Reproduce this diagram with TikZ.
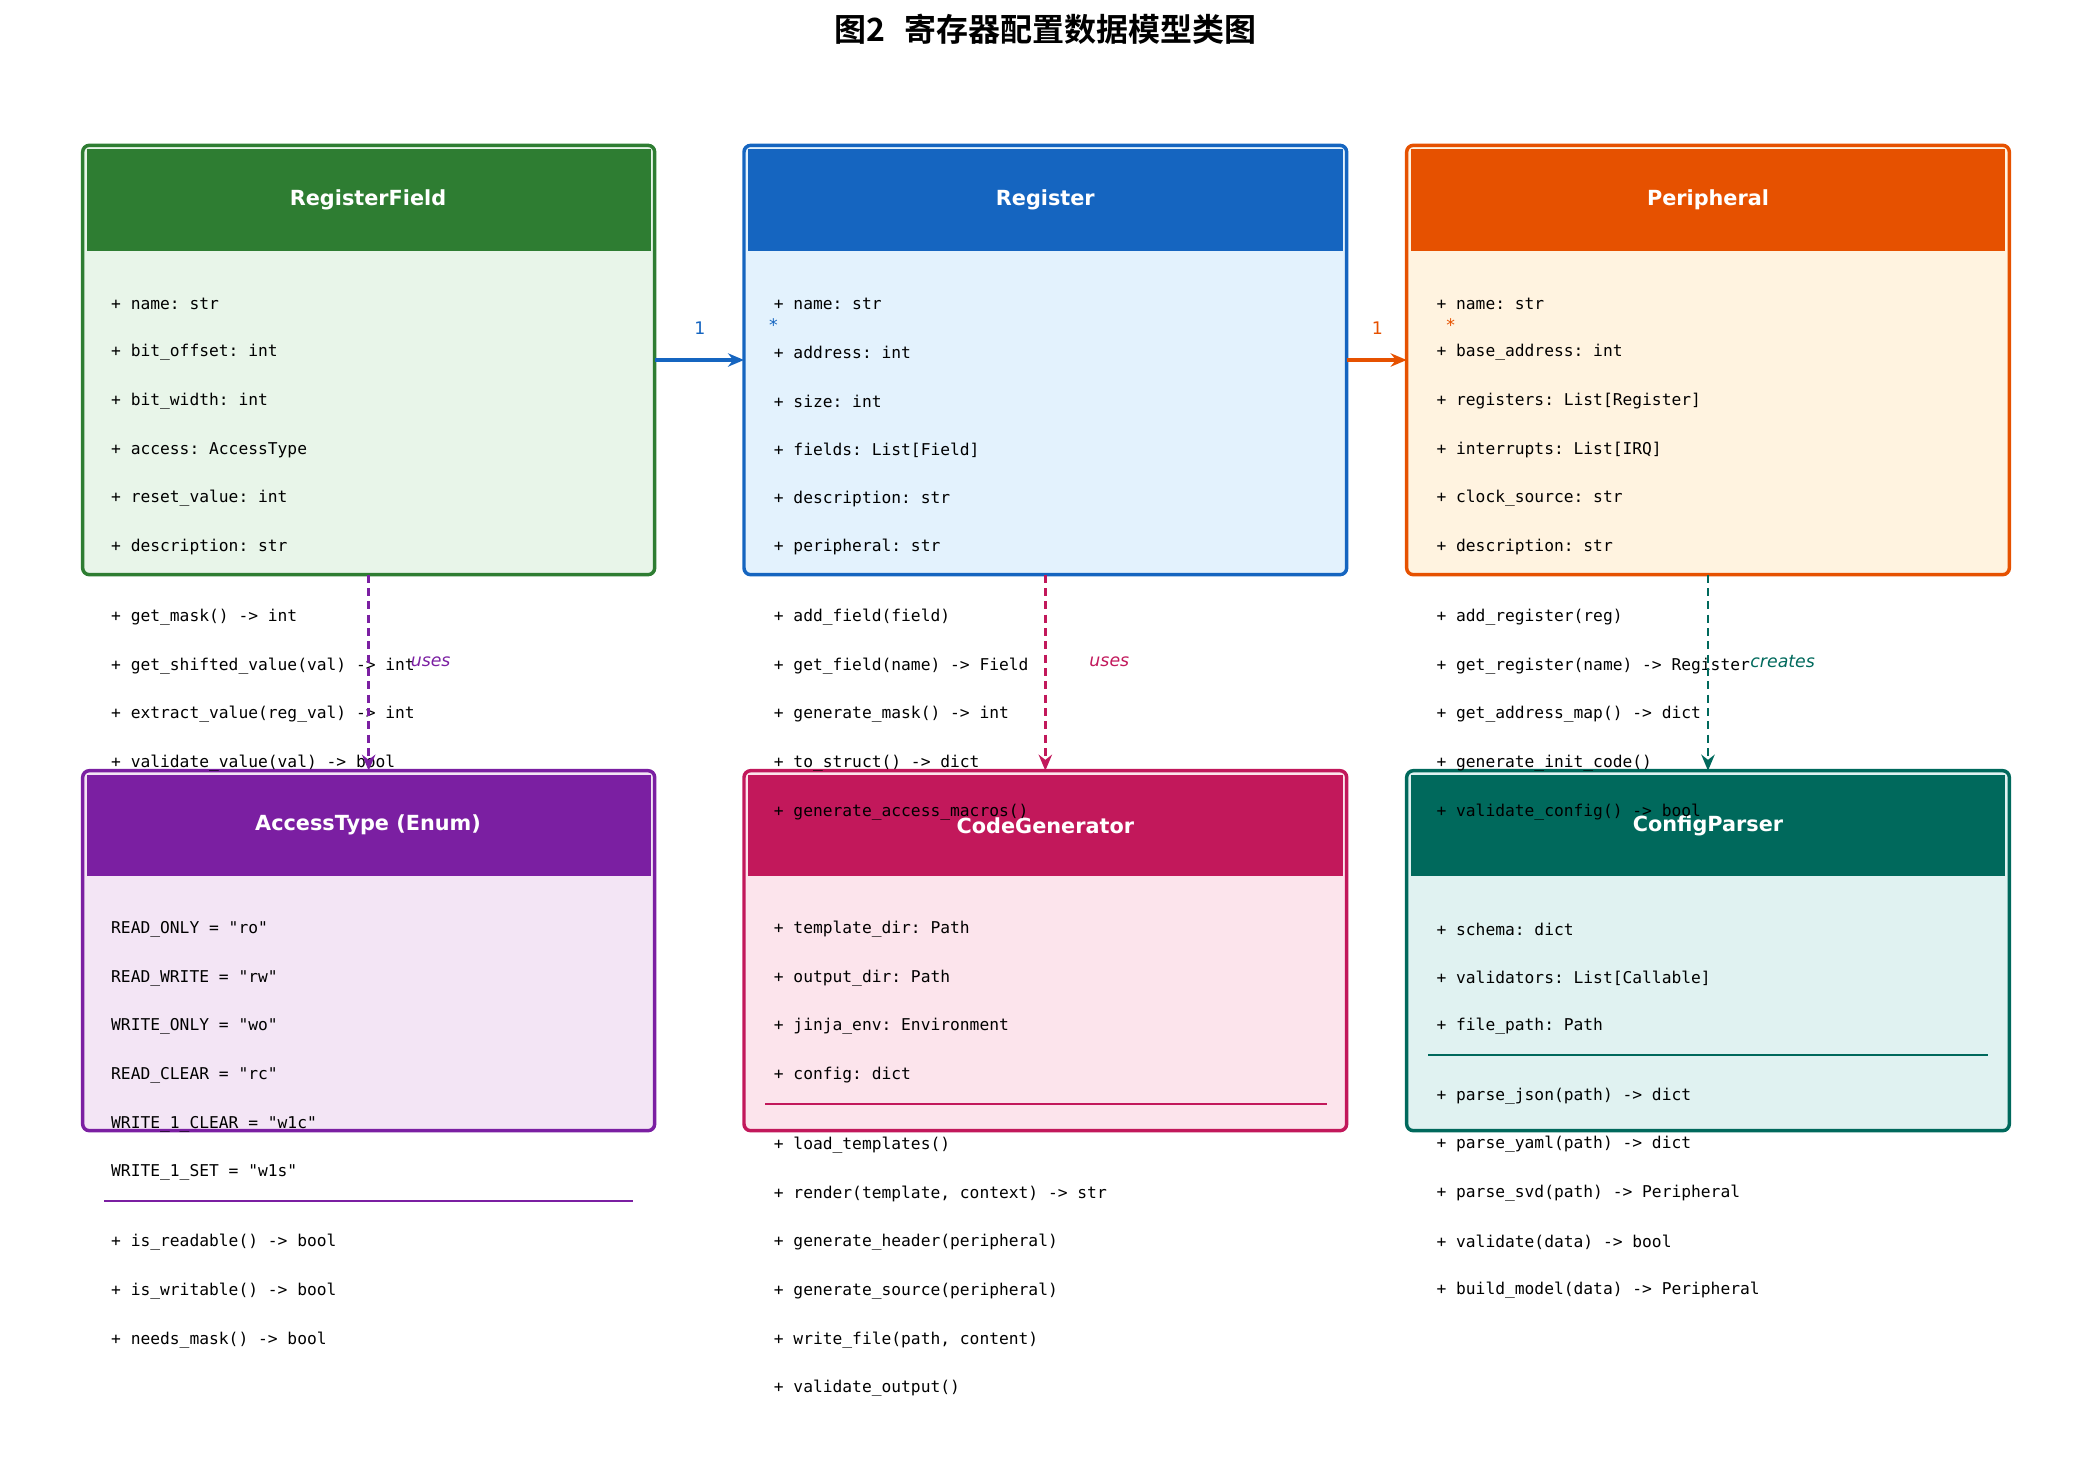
\documentclass[tikz,border=0pt]{standalone}
\usepackage{fontspec}
\setmainfont{DejaVu Sans}
\setmonofont{DejaVu Sans Mono}
\newfontfamily\cjk{Noto Sans CJK SC}[BoldFont={Noto Sans CJK SC Bold}]
\usetikzlibrary{arrows.meta}
\definecolor{cA}{HTML}{2E7D32}\definecolor{fA}{HTML}{E8F5E9}
\definecolor{cB}{HTML}{1565C0}\definecolor{fB}{HTML}{E3F2FD}
\definecolor{cC}{HTML}{E65100}\definecolor{fC}{HTML}{FFF3E0}
\definecolor{cD}{HTML}{7B1FA2}\definecolor{fD}{HTML}{F3E5F5}
\definecolor{cE}{HTML}{C2185B}\definecolor{fE}{HTML}{FCE4EC}
\definecolor{cF}{HTML}{00695C}\definecolor{fF}{HTML}{E0F2F1}
\newcommand{\umlbox}[7]{%
  \draw[#2,line width=1.3pt,rounded corners=2.5pt,fill=#3] (#4,#5) rectangle (#6,#7);
  \fill[#2] ({#4+3},{#5+3}) rectangle ({#6-3},{#5+79});
  \coordinate (#1-top) at ({(#4+#6)/2},#5);
  \coordinate (#1-bot) at ({(#4+#6)/2},#7);
  \coordinate (#1-left) at (#4,{#5+161});
  \coordinate (#1-right) at (#6,{#5+161});
}
\newcommand{\txtlines}[3]{\foreach \t [count=\i from 0] in {#3} \node[txt] at (#1,{#2+36.5*\i}) {\t};}
\begin{document}
\begin{tikzpicture}[x=0.5pt,y=-0.5pt,
  txt/.style={anchor=west,font=\ttfamily\fontsize{6.1}{7}\selectfont,inner sep=0pt},
  hdr/.style={font=\bfseries\fontsize{7.8}{9}\selectfont,text=white},
  lbl/.style={font=\fontsize{6.5}{8}\selectfont},
  ilbl/.style={font=\itshape\fontsize{6.5}{8}\selectfont},
  dep/.style={densely dashed,line width=1.1pt,-{Stealth[length=6pt,width=5pt]}},
  asc/.style={line width=1.2pt,-{Stealth[length=6pt,width=5pt]}}]
\useasboundingbox (0,0) rectangle (1560,1110);
\node[font=\cjk\bfseries\fontsize{12}{14}\selectfont] (title) at (784,22) {图2\hspace{0.6em}寄存器配置数据模型类图};
\umlbox{rf}{cA}{fA}{62}{109}{491}{431}
\umlbox{rg}{cB}{fB}{558}{109}{1010}{431}
\umlbox{pe}{cC}{fC}{1055}{109}{1507}{431}
\umlbox{at}{cD}{fD}{62}{578}{491}{848}
\umlbox{cg}{cE}{fE}{558}{578}{1010}{848}
\umlbox{cp}{cF}{fF}{1055}{578}{1507}{848}
\node[hdr] (h1) at (276,150) {RegisterField};
\node[hdr] (h2) at (784,150) {Register};
\node[hdr] (h3) at (1281,150) {Peripheral};
\node[hdr] (h4) at (276,619) {AccessType (Enum)};
\node[hdr] (h5) at (784,619) {CodeGenerator};
\node[hdr] (h6) at (1281,619) {ConfigParser};
\txtlines{83}{228}{+ name: str,+ bit\_offset: int,+ bit\_width: int,+ access: AccessType,+ reset\_value: int,+ description: str}
\txtlines{83}{463}{+ get\_mask() -> int,+ get\_shifted\_value(val) -> int,+ extract\_value(reg\_val) -> int,+ validate\_value(val) -> bool}
\txtlines{580}{228}{+ name: str,+ address: int,+ size: int,+ fields: List[Field],+ description: str,+ peripheral: str}
\txtlines{580}{463}{+ add\_field(field),+ get\_field(name) -> Field,+ generate\_mask() -> int,+ to\_struct() -> dict,+ generate\_access\_macros()}
\txtlines{1077}{228}{+ name: str,+ base\_address: int,+ registers: List[Register],+ interrupts: List[IRQ],+ clock\_source: str,+ description: str}
\txtlines{1077}{463}{+ add\_register(reg),+ get\_register(name) -> Register,+ get\_address\_map() -> dict,+ generate\_init\_code(),+ validate\_config() -> bool}
\txtlines{83}{697}{READ\_ONLY = "ro",READ\_WRITE = "rw",WRITE\_ONLY = "wo",READ\_CLEAR = "rc",WRITE\_1\_CLEAR = "w1c",WRITE\_1\_SET = "w1s"}
\draw[cD,line width=0.8pt] (78,901) -- (475,901);
\txtlines{83}{932}{+ is\_readable() -> bool,+ is\_writable() -> bool,+ needs\_mask() -> bool}
\txtlines{580}{697}{+ template\_dir: Path,+ output\_dir: Path,+ jinja\_env: Environment,+ config: dict}
\draw[cE,line width=0.8pt] (574,828) -- (995,828);
\txtlines{580}{859}{+ load\_templates(),{+ render(template, context) -> str},+ generate\_header(peripheral),+ generate\_source(peripheral),{+ write\_file(path, content)},+ validate\_output()}
\txtlines{1077}{697}{+ schema: dict,+ validators: List[Callable],+ file\_path: Path}
\draw[cF,line width=0.8pt] (1071,791) -- (1491,791);
\txtlines{1077}{822}{+ parse\_json(path) -> dict,+ parse\_yaml(path) -> dict,+ parse\_svd(path) -> Peripheral,+ validate(data) -> bool,+ build\_model(data) -> Peripheral}
\draw[asc,cB] (rf-right) -- (rg-left);
\draw[asc,cC] (rg-right) -- (pe-left);
\node[lbl,text=cB] (m1) at (525,246) {1};
\node[lbl,text=cB] (m2) at (580,244) {*};
\node[lbl,text=cC] (m3) at (1033,246) {1};
\node[lbl,text=cC] (m4) at (1088,244) {*};
\draw[dep,cD] (rf-bot) -- (at-top);
\draw[dep,cE] (rg-bot) -- (cg-top);
\draw[dep,cF] (pe-bot) -- (cp-top);
\node[ilbl,text=cD] (u1) at (323,496) {uses};
\node[ilbl,text=cE] (u2) at (832,496) {uses};
\node[ilbl,text=cF] (u3) at (1337,496) {creates};
\end{tikzpicture}
\end{document}
